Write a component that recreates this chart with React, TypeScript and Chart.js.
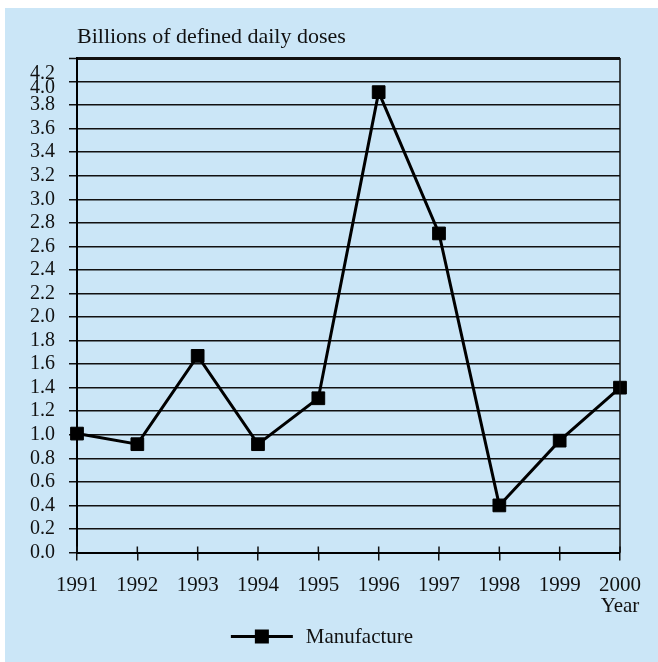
import React, { useEffect, useRef } from "react";
import { Chart, registerables } from "chart.js";

Chart.register(...registerables);

const years = ["1991", "1992", "1993", "1994", "1995", "1996", "1997", "1998", "1999", "2000"];
const manufacture = [1.01, 0.92, 1.67, 0.92, 1.31, 3.91, 2.71, 0.4, 0.95, 1.4];
const seriesName = "Manufacture";
const yAxisTitle = "Billions of defined daily doses";
const xAxisTitle = "Year";
const yMin = 0;
const yMax = 4.2;
const yStep = 0.2;

const FONT = "'Liberation Serif', 'Times New Roman', serif";
const PANEL = "#cbe6f7";
const INK = "#111111";

// label nudges (px downwards) for the crowded top tick labels, as in the source
const labelShift = (v: number) => (v >= 4.19 ? 16 : v >= 3.99 ? 6 : 0);

const decorPlugin = {
  id: "decor",
  beforeDraw(chart: any) {
    const { ctx, width, height } = chart;
    ctx.save();
    ctx.fillStyle = "#ffffff";
    ctx.fillRect(0, 0, width, height);
    ctx.fillStyle = PANEL;
    ctx.fillRect(5, 8, width - 5, height - 8);
    ctx.restore();
  },
  afterDatasetsDraw(chart: any) {
    const { ctx, chartArea } = chart;
    const x = chart.scales.x;
    ctx.save();
    ctx.strokeStyle = INK;
    ctx.lineWidth = 1.5;
    ctx.beginPath();
    ctx.moveTo(chartArea.right, chartArea.top);
    ctx.lineTo(chartArea.right, chartArea.bottom);
    ctx.stroke();
    for (let i = 0; i < years.length; i++) {
      const px = x.getPixelForTick(i);
      ctx.beginPath();
      ctx.moveTo(px, chartArea.bottom - 6);
      ctx.lineTo(px, chartArea.bottom);
      ctx.stroke();
    }
    ctx.fillStyle = INK;
    ctx.font = `22px ${FONT}`;
    ctx.textAlign = "left";
    ctx.textBaseline = "alphabetic";
    ctx.fillText(yAxisTitle, chartArea.left, 43);
    ctx.font = `21px ${FONT}`;
    const tw = ctx.measureText(seriesName).width;
    const lineLen = 62;
    const gap = 13;
    const total = lineLen + gap + tw;
    const cx = 322;
    const start = cx - total / 2;
    const ly = 636.5;
    ctx.lineWidth = 3;
    ctx.strokeStyle = "#000";
    ctx.beginPath();
    ctx.moveTo(start, ly);
    ctx.lineTo(start + lineLen, ly);
    ctx.stroke();
    ctx.fillStyle = "#000";
    ctx.fillRect(start + lineLen / 2 - 7, ly - 7, 14, 14);
    ctx.fillStyle = INK;
    ctx.fillText(seriesName, start + lineLen + gap, 643);
    ctx.restore();
  },
};

export default function App() {
  const ref = useRef<HTMLCanvasElement | null>(null);
  useEffect(() => {
    if (!ref.current) return;
    const chart = new Chart(ref.current, {
      type: "line",
      data: {
        labels: years,
        datasets: [
          {
            label: seriesName,
            data: manufacture,
            borderColor: "#000",
            borderWidth: 3,
            backgroundColor: "#000",
            pointStyle: "rect",
            pointRadius: 9,
            pointBorderWidth: 1,
            pointBorderColor: "#000",
            pointBackgroundColor: "#000",
            tension: 0,
            clip: false as any,
          },
        ],
      },
      options: {
        animation: false,
        responsive: false,
        devicePixelRatio: 1,
        layout: { padding: { left: 0, right: 38, top: 58, bottom: 0 } },
        plugins: {
          legend: { display: false },
          title: { display: false },
          tooltip: { enabled: false },
        },
        scales: {
          x: {
            type: "category",
            offset: false,
            afterFit: (s: any) => {
              s.height = 109.5;
            },
            grid: {
              display: true,
              drawOnChartArea: false,
              drawTicks: true,
              tickLength: 8,
              color: INK,
              lineWidth: 1.5,
            },
            border: { display: true, color: "#000", width: 2 },
            ticks: {
              autoSkip: false,
              maxRotation: 0,
              padding: 14,
              color: INK,
              font: { family: FONT, size: 21, lineHeight: 1.0 },
              callback: (v: any, i: number) =>
                i === years.length - 1 ? [years[i], xAxisTitle] : years[i],
            },
          },
          y: {
            min: yMin,
            max: yMax,
            afterFit: (s: any) => {
              s.width = 77;
            },
            grid: {
              color: INK,
              lineWidth: (c: any) => (c.tick && c.tick.value >= yMax - 0.001 ? 3 : 1.5),
              tickLength: 8,
              tickColor: INK,
              tickWidth: 1.5,
            },
            border: { display: true, color: "#000", width: 2 },
            ticks: {
              autoSkip: false,
              stepSize: yStep,
              padding: 14,
              color: INK,
              font: (c: any) => {
                const sh = c.tick ? labelShift(c.tick.value) : 0;
                return { family: FONT, size: 20, lineHeight: sh ? `${sh * 2}px` : 1.2 };
              },
              callback: (v: any) => {
                const s = Number(v).toFixed(1);
                return labelShift(Number(v)) ? ["", s] : s;
              },
            },
          },
        },
      },
      plugins: [decorPlugin],
    });
    return () => chart.destroy();
  }, []);
  return (
    <div style={{ position: "fixed", left: 0, top: 0, width: 658, height: 662 }}>
      <canvas ref={ref} width={658} height={662} style={{ width: 658, height: 662, display: "block" }} />
    </div>
  );
}
